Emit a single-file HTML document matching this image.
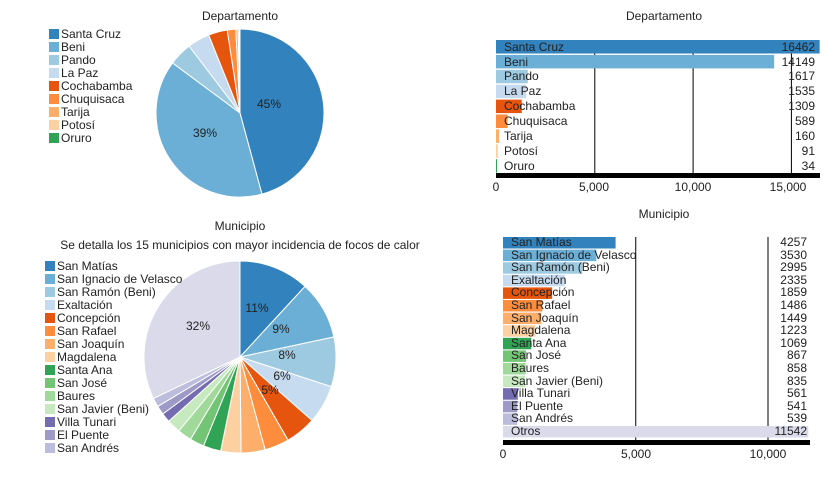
<!DOCTYPE html>
<html><head><meta charset="utf-8"><style>
body{margin:0;background:#fff;width:835px;height:473px;overflow:hidden}
svg text{font-family:"Liberation Sans",Arial,sans-serif;font-size:12px;fill:#222}
</style></head><body>
<svg id="s" width="835" height="473" xmlns="http://www.w3.org/2000/svg">
<g id="pies"></g>
<text x="240" y="20" text-anchor="middle" font-size="14">Departamento</text>
<text x="664" y="20" text-anchor="middle" font-size="14">Departamento</text>
<text x="240" y="230" text-anchor="middle" font-size="14">Municipio</text>
<text x="664" y="218" text-anchor="middle" font-size="14">Municipio</text>
<text x="240" y="249" text-anchor="middle">Se detalla los 15 municipios con mayor incidencia de focos de calor</text>
<g>
<rect x="49" y="29" width="10" height="10" fill="#3182bd"/><text x="61" y="38">Santa Cruz</text>
<rect x="49" y="42" width="10" height="10" fill="#6baed6"/><text x="61" y="51">Beni</text>
<rect x="49" y="55" width="10" height="10" fill="#9ecae1"/><text x="61" y="64">Pando</text>
<rect x="49" y="68" width="10" height="10" fill="#c6dbef"/><text x="61" y="77">La Paz</text>
<rect x="49" y="81" width="10" height="10" fill="#e6550d"/><text x="61" y="90">Cochabamba</text>
<rect x="49" y="94" width="10" height="10" fill="#fd8d3c"/><text x="61" y="103">Chuquisaca</text>
<rect x="49" y="107" width="10" height="10" fill="#fdae6b"/><text x="61" y="116">Tarija</text>
<rect x="49" y="120" width="10" height="10" fill="#fdd0a2"/><text x="61" y="129">Potosí</text>
<rect x="49" y="133" width="10" height="10" fill="#31a354"/><text x="61" y="142">Oruro</text>
</g>
<g>
<rect x="45" y="261" width="10" height="10" fill="#3182bd"/><text x="57" y="270">San Matías</text>
<rect x="45" y="274" width="10" height="10" fill="#6baed6"/><text x="57" y="283">San Ignacio de Velasco</text>
<rect x="45" y="287" width="10" height="10" fill="#9ecae1"/><text x="57" y="296">San Ramón (Beni)</text>
<rect x="45" y="300" width="10" height="10" fill="#c6dbef"/><text x="57" y="309">Exaltación</text>
<rect x="45" y="313" width="10" height="10" fill="#e6550d"/><text x="57" y="322">Concepción</text>
<rect x="45" y="326" width="10" height="10" fill="#fd8d3c"/><text x="57" y="335">San Rafael</text>
<rect x="45" y="339" width="10" height="10" fill="#fdae6b"/><text x="57" y="348">San Joaquín</text>
<rect x="45" y="352" width="10" height="10" fill="#fdd0a2"/><text x="57" y="361">Magdalena</text>
<rect x="45" y="365" width="10" height="10" fill="#31a354"/><text x="57" y="374">Santa Ana</text>
<rect x="45" y="378" width="10" height="10" fill="#74c476"/><text x="57" y="387">San José</text>
<rect x="45" y="391" width="10" height="10" fill="#a1d99b"/><text x="57" y="400">Baures</text>
<rect x="45" y="404" width="10" height="10" fill="#c7e9c0"/><text x="57" y="413">San Javier (Beni)</text>
<rect x="45" y="417" width="10" height="10" fill="#756bb1"/><text x="57" y="426">Villa Tunari</text>
<rect x="45" y="430" width="10" height="10" fill="#9e9ac8"/><text x="57" y="439">El Puente</text>
<rect x="45" y="443" width="10" height="10" fill="#bcbddc"/><text x="57" y="452">San Andrés</text>
</g>
<g id="bars"></g>
<g id="labels">
<text x="269" y="108" text-anchor="middle">45%</text>
<text x="205" y="137" text-anchor="middle">39%</text>
<text x="257" y="312" text-anchor="middle">11%</text>
<text x="281" y="333" text-anchor="middle">9%</text>
<text x="287" y="359" text-anchor="middle">8%</text>
<text x="282" y="380" text-anchor="middle">6%</text>
<text x="270" y="394" text-anchor="middle">5%</text>
<text x="198" y="330" text-anchor="middle">32%</text>
</g>
<g>
<text x="504" y="51">Santa Cruz</text><text x="815" y="51" text-anchor="end">16462</text>
<text x="504" y="66">Beni</text><text x="815" y="66" text-anchor="end">14149</text>
<text x="504" y="80">Pando</text><text x="815" y="80" text-anchor="end">1617</text>
<text x="504" y="95">La Paz</text><text x="815" y="95" text-anchor="end">1535</text>
<text x="504" y="110">Cochabamba</text><text x="815" y="110" text-anchor="end">1309</text>
<text x="504" y="125">Chuquisaca</text><text x="815" y="125" text-anchor="end">589</text>
<text x="504" y="140">Tarija</text><text x="815" y="140" text-anchor="end">160</text>
<text x="504" y="155">Potosí</text><text x="815" y="155" text-anchor="end">91</text>
<text x="504" y="170">Oruro</text><text x="815" y="170" text-anchor="end">34</text>
<text x="496" y="191" text-anchor="middle">0</text>
<text x="594" y="191" text-anchor="middle">5,000</text>
<text x="693" y="191" text-anchor="middle">10,000</text>
<text x="788" y="191" text-anchor="middle">15,000</text>
</g>
<g>
<text x="511" y="246">San Matías</text><text x="807" y="246" text-anchor="end">4257</text>
<text x="511" y="259">San Ignacio de Velasco</text><text x="807" y="259" text-anchor="end">3530</text>
<text x="511" y="271">San Ramón (Beni)</text><text x="807" y="271" text-anchor="end">2995</text>
<text x="511" y="284">Exaltación</text><text x="807" y="284" text-anchor="end">2335</text>
<text x="511" y="296">Concepción</text><text x="807" y="296" text-anchor="end">1859</text>
<text x="511" y="309">San Rafael</text><text x="807" y="309" text-anchor="end">1486</text>
<text x="511" y="322">San Joaquín</text><text x="807" y="322" text-anchor="end">1449</text>
<text x="511" y="334">Magdalena</text><text x="807" y="334" text-anchor="end">1223</text>
<text x="511" y="347">Santa Ana</text><text x="807" y="347" text-anchor="end">1069</text>
<text x="511" y="359">San José</text><text x="807" y="359" text-anchor="end">867</text>
<text x="511" y="372">Baures</text><text x="807" y="372" text-anchor="end">858</text>
<text x="511" y="385">San Javier (Beni)</text><text x="807" y="385" text-anchor="end">835</text>
<text x="511" y="397">Villa Tunari</text><text x="807" y="397" text-anchor="end">561</text>
<text x="511" y="410">El Puente</text><text x="807" y="410" text-anchor="end">541</text>
<text x="511" y="422">San Andrés</text><text x="807" y="422" text-anchor="end">539</text>
<text x="511" y="435">Otros</text><text x="807" y="435" text-anchor="end">11542</text>
<text x="503" y="458" text-anchor="middle">0</text>
<text x="636" y="458" text-anchor="middle">5,000</text>
<text x="768" y="458" text-anchor="middle">10,000</text>
</g>
</svg>
<script>
var NS="http://www.w3.org/2000/svg";
var C=["#3182bd","#6baed6","#9ecae1","#c6dbef","#e6550d","#fd8d3c","#fdae6b","#fdd0a2","#31a354","#74c476","#a1d99b","#c7e9c0","#756bb1","#9e9ac8","#bcbddc","#dadaeb"];
function el(p,t,a){var e=document.createElementNS(NS,t);for(var k in a)e.setAttribute(k,a[k]);p.appendChild(e);return e;}
var pies=document.getElementById("pies"),bars=document.getElementById("bars");
function pie(cx,cy,r,v){var s=v.reduce(function(a,b){return a+b},0),a=0;
 v.forEach(function(x,i){var a2=a+x/s*2*Math.PI;
  var x1=cx+r*Math.sin(a),y1=cy-r*Math.cos(a),x2=cx+r*Math.sin(a2),y2=cy-r*Math.cos(a2);
  el(pies,"path",{d:"M"+cx+","+cy+"L"+x1+","+y1+"A"+r+","+r+" 0 "+((a2-a)>Math.PI?1:0)+" 1 "+x2+","+y2+"Z",fill:C[i],stroke:"#fff","stroke-width":1});a=a2;});}
var d1=[16462,14149,1617,1535,1309,589,160,91,34];
var d2=[4257,3530,2995,2335,1859,1486,1449,1223,1069,867,858,835,561,541,539,11542];
pie(240,113,84,d1);pie(240,357,96,d2);
function bar(x0,sc,y0,h,st,d,ticks,yAx,right){
 ticks.forEach(function(t){el(bars,"rect",{x:x0+t*sc,y:y0,width:1,height:yAx-y0,fill:"#000"});});
 d.forEach(function(v,i){el(bars,"rect",{x:x0,y:y0+i*st,width:Math.max(1,v*sc),height:h,fill:C[i]});});
 el(bars,"rect",{x:x0,y:yAx,width:right-x0,height:5,fill:"#000"});}
bar(496,0.01966,40,13.5,14.9,d1,[5000,10000,15000],173,820);
bar(503,0.02645,237,11.5,12.6,d2,[5000,10000],440,810);
</script>
</body></html>
